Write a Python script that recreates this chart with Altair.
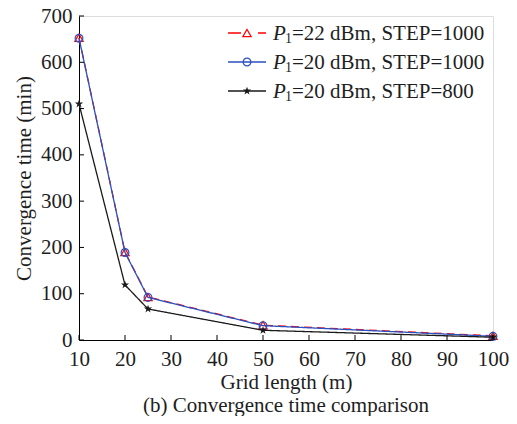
import altair as alt
import pandas as pd

grid_len = [10, 20, 25, 50, 100]
red_vals = [653, 190, 93, 32, 9]
blue_vals = [652, 189, 92, 31, 8]
black_vals = [510, 119, 67, 21, 6]
series_names = ["P1=22 dBm, STEP=1000", "P1=20 dBm, STEP=1000", "P1=20 dBm, STEP=800"]
legend_rest = ["=22 dBm, STEP=1000", "=20 dBm, STEP=1000", "=20 dBm, STEP=800"]
colors = ["#FF0000", "#2B50C0", "#1A1A1A"]
shapes = ["triangle-up", "circle", "M0,-1.1L0.26,-0.36L1.05,-0.36L0.42,0.12L0.65,0.89L0,0.42L-0.65,0.89L-0.42,0.12L-1.05,-0.36L-0.26,-0.36Z"]
sizes = [70, 60, 60]
x_ticks = [10, 20, 30, 40, 50, 60, 70, 80, 90, 100]
y_ticks = [0, 100, 200, 300, 400, 500, 600, 700]

FONT = "Times New Roman, Liberation Serif, DejaVu Serif, serif"
FS = 21
W, H = 414, 324
TXT = "#1e1e1e"

rows = []
for name, vals in zip(series_names, [red_vals, blue_vals, black_vals]):
    for x, v in zip(grid_len, vals):
        rows.append({"series": name, "x": x, "y": v})
df = pd.DataFrame(rows)

xscale = alt.Scale(domain=[10, 100], nice=False, zero=False)
yscale = alt.Scale(domain=[0, 700], nice=False)

layers = []
for i, name in enumerate(series_names):
    sub = df[df.series == name]
    base = alt.Chart(sub)
    line = base.mark_line(
        color=colors[i], strokeWidth=1.3,
        strokeDash=[8, 5] if i == 0 else [1, 0],
    ).encode(
        x=alt.X("x:Q", scale=xscale,
                axis=alt.Axis(values=x_ticks, title="Grid length (m)", ticks=False,
                              domainColor="black", labelFont=FONT, labelFontSize=FS,
                              labelColor=TXT, titleFont=FONT, titleFontSize=FS,
                              titleFontWeight="normal", titleColor=TXT,
                              labelPadding=8, titlePadding=2, grid=False,
                              labelFlush=False)),
        y=alt.Y("y:Q", scale=yscale,
                axis=alt.Axis(values=y_ticks, title="Convergence time (min)", ticks=False,
                              domainColor="black", labelFont=FONT, labelFontSize=FS,
                              labelColor=TXT, titleFont=FONT, titleFontSize=FS,
                              titleFontWeight="normal", titleColor=TXT,
                              labelPadding=7, titlePadding=6, grid=False,
                              labelFlush=False)),
    )
    pt = base.mark_point(
        shape=shapes[i], color=colors[i],
        filled=(i == 2), size=sizes[i],
        strokeWidth=1.2, opacity=1,
    ).encode(x=alt.X("x:Q", scale=xscale), y=alt.Y("y:Q", scale=yscale))
    layers += [line, pt]

# inward ticks
xt = alt.Chart(pd.DataFrame({"t": x_ticks})).mark_rule(color="black", strokeWidth=1).encode(
    x=alt.X("t:Q", scale=xscale), y=alt.value(H), y2=alt.value(H - 5))
yt = alt.Chart(pd.DataFrame({"t": y_ticks})).mark_rule(color="black", strokeWidth=1).encode(
    y=alt.Y("t:Q", scale=yscale), x=alt.value(0), x2=alt.value(5))
layers += [xt, yt]

# manual legend
leg_y = [17, 46, 75]
for i in range(3):
    d = pd.DataFrame({"rest": [legend_rest[i]], "p": ["P"], "s": ["1"]})
    b = alt.Chart(d)
    layers.append(b.mark_rule(color=colors[i], strokeWidth=1.3,
                              strokeDash=[13, 17] if i == 0 else [1, 0]).encode(
        x=alt.value(149), x2=alt.value(187), y=alt.value(leg_y[i])))
    layers.append(b.mark_point(shape=shapes[i], color=colors[i], filled=(i == 2),
                               size=sizes[i], strokeWidth=1.2, opacity=1).encode(
        x=alt.value(168), y=alt.value(leg_y[i])))
    layers.append(b.mark_text(font=FONT, fontSize=FS, fontStyle="italic", align="left",
                              baseline="middle", color=TXT).encode(
        text="p:N", x=alt.value(194), y=alt.value(leg_y[i] + 1)))
    layers.append(b.mark_text(font=FONT, fontSize=14, align="left",
                              baseline="middle", color=TXT).encode(
        text="s:N", x=alt.value(206), y=alt.value(leg_y[i] + 6)))
    layers.append(b.mark_text(font=FONT, fontSize=FS, align="left",
                              baseline="middle", color=TXT).encode(
        text="rest:N", x=alt.value(213), y=alt.value(leg_y[i] + 1)))

chart = alt.layer(*layers).properties(
    width=W, height=H,
    autosize=alt.AutoSizeParams(type="none"),
    padding={"left": 71, "top": 8, "right": 16, "bottom": 76},
    title=alt.TitleParams("(b) Convergence time comparison", orient="bottom",
                          font=FONT, fontSize=FS, fontWeight="normal", color=TXT,
                          offset=3, anchor="middle"),
).configure_view(stroke="black", strokeWidth=1).configure(background="white")

chart.save("out.html", embed_options={"renderer": "svg", "actions": False})
